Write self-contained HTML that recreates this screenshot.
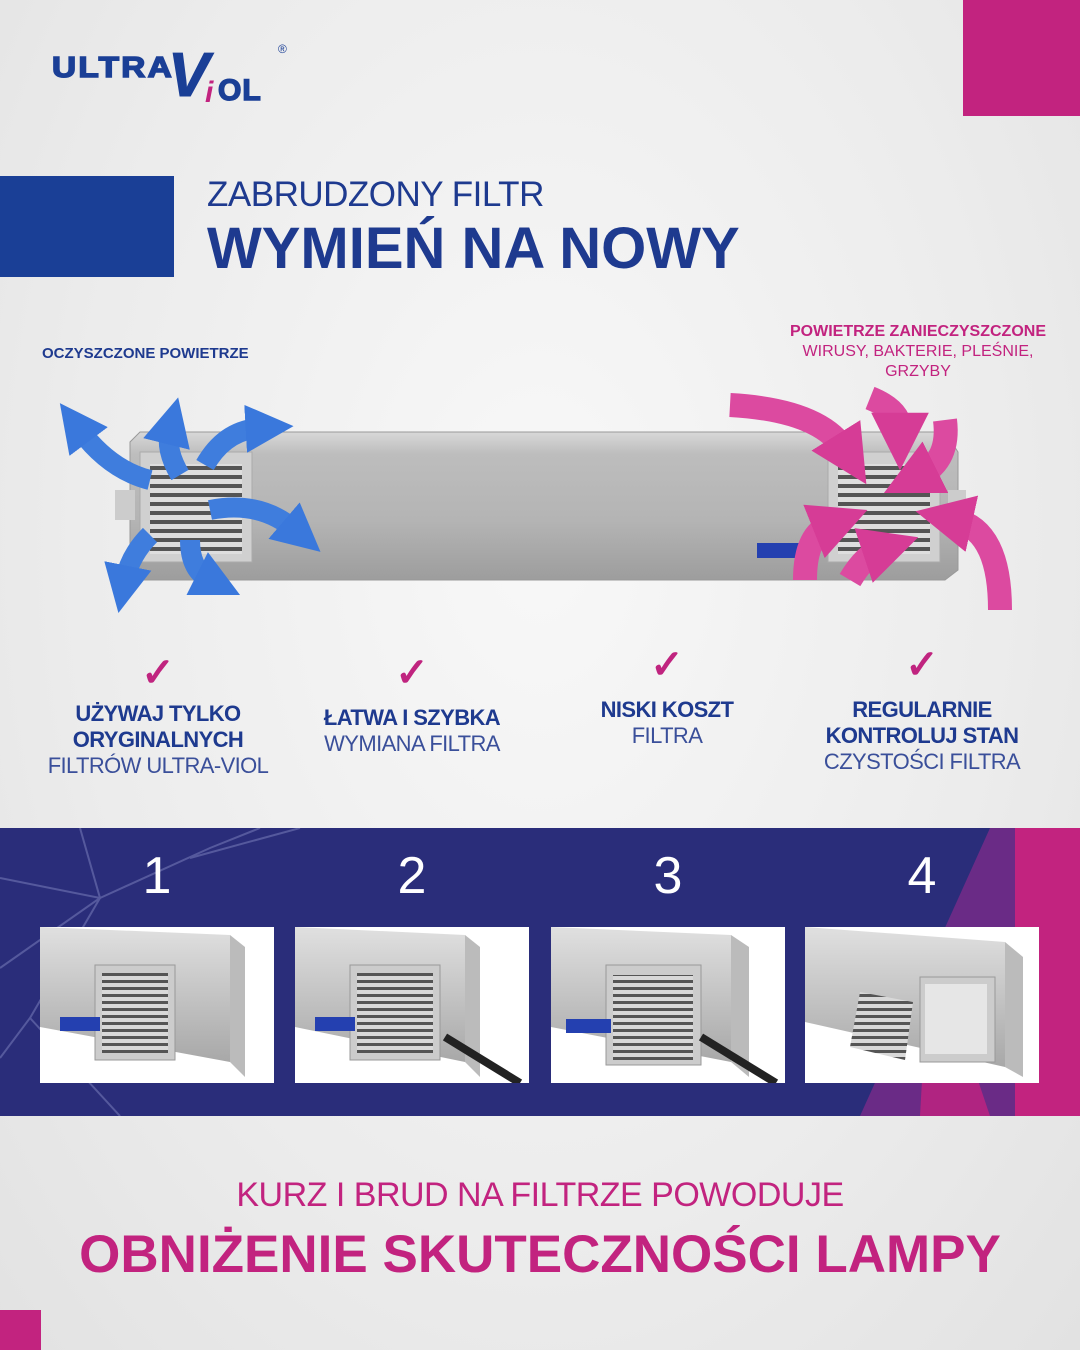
<!DOCTYPE html>
<html><head><meta charset="utf-8"><style>
*{margin:0;padding:0;box-sizing:border-box}
body{width:1080px;height:1350px;overflow:hidden;position:relative;font-family:"Liberation Sans",sans-serif;background:radial-gradient(ellipse at 50% 40%,#f8f8f8 0%,#ececec 60%,#e2e2e2 100%)}
.a{position:absolute}
.blue{color:#1e3a8f}
.col{position:absolute;text-align:center;width:300px;font-size:22px;line-height:26px;letter-spacing:-0.6px;color:#1e3a8f}
.col b{font-weight:bold}
.col span{font-weight:normal;color:#3a4f9a}
.chk{position:absolute;color:#c0247f;font-size:40px;font-weight:bold;width:300px;text-align:center}
.num{position:absolute;color:#fff;font-size:52px;width:234px;text-align:center;top:846px}
.ph{position:absolute;top:927px;width:234px;height:156px;background:#fff;overflow:hidden}
</style></head><body>
<div class="a" style="left:963px;top:0;width:117px;height:116px;background:#c2237f"></div>
<div class="a" style="left:0;top:1310px;width:41px;height:40px;background:#c2237f"></div>
<div class="a" style="left:0;top:176px;width:174px;height:101px;background:#1a3f96"></div>
<!-- logo -->
<div class="a" style="left:52px;top:52px;font-size:29px;font-weight:900;color:#1a3f96;letter-spacing:2px;transform:scaleX(1.15);transform-origin:left;-webkit-text-stroke:1.5px #1a3f96">ULTRA</div>
<div class="a" style="left:168px;top:46px;font-size:62px;font-weight:900;color:#1a3f96;font-style:italic;line-height:60px;-webkit-text-stroke:1px #1a3f96">V</div>
<div class="a" style="left:205px;top:76px;font-size:30px;font-weight:900;color:#c2237f;font-style:italic">i</div>
<div class="a" style="left:218px;top:74px;font-size:30px;font-weight:900;color:#1a3f96;-webkit-text-stroke:1.5px #1a3f96;letter-spacing:1px">OL</div>
<div class="a" style="left:278px;top:42px;font-size:12px;color:#1a3f96">®</div>

<div class="a blue" style="left:207px;top:175px;font-size:35px;letter-spacing:-0.5px">ZABRUDZONY FILTR</div>
<div class="a blue" style="left:207px;top:215px;font-size:58px;font-weight:bold;letter-spacing:0px">WYMIEŃ NA NOWY</div>

<div class="a blue" style="left:42px;top:345px;font-size:15px;font-weight:bold">OCZYSZCZONE POWIETRZE</div>
<div class="a" style="left:770px;top:322px;width:296px;text-align:center;font-size:16px;line-height:20px;color:#c2237f"><b>POWIETRZE ZANIECZYSZCZONE</b><br>WIRUSY, BAKTERIE, PLEŚNIE,<br>GRZYBY</div>

<!-- device -->
<svg class="a" style="left:0;top:380px" width="1080" height="260">
<defs>
<linearGradient id="m" x1="0" y1="0" x2="0" y2="1"><stop offset="0" stop-color="#d8d8d8"/><stop offset=".15" stop-color="#bdbdbd"/><stop offset=".6" stop-color="#b4b4b4"/><stop offset="1" stop-color="#9d9d9d"/></linearGradient>
<pattern id="gr" width="100" height="9" patternUnits="userSpaceOnUse"><rect width="100" height="9" fill="#555"/><rect y="0" width="100" height="5" fill="#dedede"/></pattern>
<marker id="ab" viewBox="0 0 10 10" refX="3" refY="5" markerWidth="2.4" markerHeight="2.4" orient="auto"><path d="M0 0L10 5L0 10z" fill="#3a78dc"/></marker>
<marker id="ap" viewBox="0 0 10 10" refX="3" refY="5" markerWidth="2.4" markerHeight="2.4" orient="auto"><path d="M0 0L10 5L0 10z" fill="#d63c96"/></marker>
</defs>
<path d="M140 52 L945 52 L958 72 L958 190 L945 200 L140 200 L130 190 L130 62Z" fill="url(#m)" stroke="#999"/>
<rect x="115" y="110" width="20" height="30" fill="#ccc"/><rect x="948" y="110" width="18" height="30" fill="#ccc"/>
<rect x="140" y="72" width="112" height="110" fill="#d0d0d0" stroke="#aaa"/>
<rect x="150" y="84" width="92" height="90" fill="url(#gr)"/>
<rect x="828" y="72" width="112" height="110" fill="#d0d0d0" stroke="#aaa"/>
<rect x="838" y="84" width="92" height="90" fill="url(#gr)"/>
<rect x="757" y="163" width="62" height="15" fill="#2440b0"/>
<g fill="none" stroke="#3f7ddd" stroke-width="20" stroke-linecap="butt">
<path d="M150 100 Q110 90 80 50" marker-end="url(#ab)"/>
<path d="M180 95 Q165 70 170 50" marker-end="url(#ab)"/>
<path d="M205 85 Q225 50 260 48" marker-end="url(#ab)"/>
<path d="M210 130 Q260 120 295 150" marker-end="url(#ab)"/>
<path d="M150 155 Q130 175 125 200" marker-end="url(#ab)"/>
<path d="M190 160 Q190 190 210 200" marker-end="url(#ab)"/>
</g>
<g fill="none" stroke="#dc4aa0" stroke-width="24">
<path d="M730 25 Q820 30 845 70" marker-end="url(#ap)"/>
<path d="M870 18 Q900 30 900 50" marker-end="url(#ap)"/>
<path d="M945 40 Q950 80 920 95" marker-end="url(#ap)"/>
<path d="M805 200 Q805 155 830 145" marker-end="url(#ap)"/>
<path d="M850 200 Q865 175 880 170" marker-end="url(#ap)"/>
<path d="M1000 230 Q1000 150 955 140" marker-end="url(#ap)"/>
</g>
</svg>

<div class="chk" style="left:8px;top:650px">✓</div>
<div class="chk" style="left:262px;top:650px">✓</div>
<div class="chk" style="left:517px;top:642px">✓</div>
<div class="chk" style="left:772px;top:642px">✓</div>
<div class="col" style="left:8px;top:701px"><b>UŻYWAJ TYLKO<br>ORYGINALNYCH</b><br><span>FILTRÓW ULTRA-VIOL</span></div>
<div class="col" style="left:262px;top:705px"><b>ŁATWA I SZYBKA</b><br><span>WYMIANA FILTRA</span></div>
<div class="col" style="left:517px;top:697px"><b>NISKI KOSZT</b><br><span>FILTRA</span></div>
<div class="col" style="left:772px;top:697px"><b>REGULARNIE<br>KONTROLUJ STAN</b><br><span>CZYSTOŚCI FILTRA</span></div>

<!-- band -->
<div class="a" style="left:0;top:828px;width:1080px;height:288px;background:#2a2d7a;overflow:hidden">
<svg width="1080" height="288" style="position:absolute;left:0;top:0">
<polygon points="860,288 990,0 1080,0 1080,288" fill="#7a2a8a" opacity=".8"/>
<rect x="1015" y="0" width="65" height="288" fill="#c2237f"/>
<polygon points="920,288 930,110 990,288" fill="#c2237f" opacity=".8"/>
<g stroke="#8b8fc8" stroke-width="2" opacity=".45" fill="none">
<path d="M0 50 L100 70 L210 20 L260 0"/><path d="M0 140 L100 70 L80 0"/><path d="M100 70 L30 190 L0 230"/><path d="M30 190 L120 288"/><path d="M190 30 L300 0"/>
</g>
</svg>
</div>
<div class="num" style="left:40px">1</div>
<div class="num" style="left:295px">2</div>
<div class="num" style="left:551px">3</div>
<div class="num" style="left:805px">4</div>

<svg width="0" height="0" style="position:absolute"><defs>
<linearGradient id="s2" x1="0" y1="0" x2="0" y2="1"><stop offset="0" stop-color="#e0e0e0"/><stop offset="1" stop-color="#a8a8a8"/></linearGradient>
<pattern id="g2" width="60" height="7" patternUnits="userSpaceOnUse"><rect width="60" height="7" fill="#555"/><rect width="60" height="4" fill="#d8d8d8"/></pattern>
</defs></svg>
<div class="ph" style="left:40px"><svg width="234" height="156"><polygon points="0,0 190,8 190,135 0,100" fill="url(#s2)"/><polygon points="190,8 205,20 205,150 190,135" fill="#bbb"/><rect x="55" y="38" width="80" height="95" fill="#ccc" stroke="#999"/><rect x="62" y="46" width="66" height="80" fill="url(#g2)"/><rect x="20" y="90" width="40" height="14" fill="#2440b0"/></svg></div>
<div class="ph" style="left:295px"><svg width="234" height="156"><polygon points="0,0 170,8 170,135 0,100" fill="url(#s2)"/><polygon points="170,8 185,20 185,150 170,135" fill="#bbb"/><rect x="55" y="38" width="90" height="95" fill="#ccc" stroke="#999"/><rect x="62" y="46" width="76" height="80" fill="url(#g2)"/><rect x="20" y="90" width="40" height="14" fill="#2440b0"/><line x1="150" y1="110" x2="225" y2="156" stroke="#222" stroke-width="8"/></svg></div>
<div class="ph" style="left:551px"><svg width="234" height="156"><polygon points="0,0 180,8 180,135 0,100" fill="url(#s2)"/><polygon points="180,8 198,20 198,150 180,135" fill="#bbb"/><rect x="55" y="38" width="95" height="100" fill="#ccc" stroke="#999"/><rect x="62" y="48" width="80" height="85" fill="url(#g2)"/><rect x="15" y="92" width="45" height="14" fill="#2440b0"/><line x1="150" y1="110" x2="225" y2="156" stroke="#222" stroke-width="8"/></svg></div>
<div class="ph" style="left:805px"><svg width="234" height="156"><polygon points="0,0 200,15 200,140 0,95" fill="url(#s2)"/><polygon points="200,15 218,30 218,150 200,140" fill="#bbb"/><rect x="115" y="50" width="75" height="85" fill="#ccc" stroke="#999"/><rect x="120" y="57" width="62" height="70" fill="#e6e6e6"/><polygon points="55,65 108,75 100,133 45,120" fill="url(#g2)"/></svg></div>

<div class="a" style="left:0;top:1176px;width:1080px;text-align:center;font-size:34px;color:#c2237f;letter-spacing:-0.5px">KURZ I BRUD NA FILTRZE POWODUJE</div>
<div class="a" style="left:0;top:1224px;width:1080px;text-align:center;font-size:53px;font-weight:bold;color:#c2237f">OBNIŻENIE SKUTECZNOŚCI LAMPY</div>
</body></html>
